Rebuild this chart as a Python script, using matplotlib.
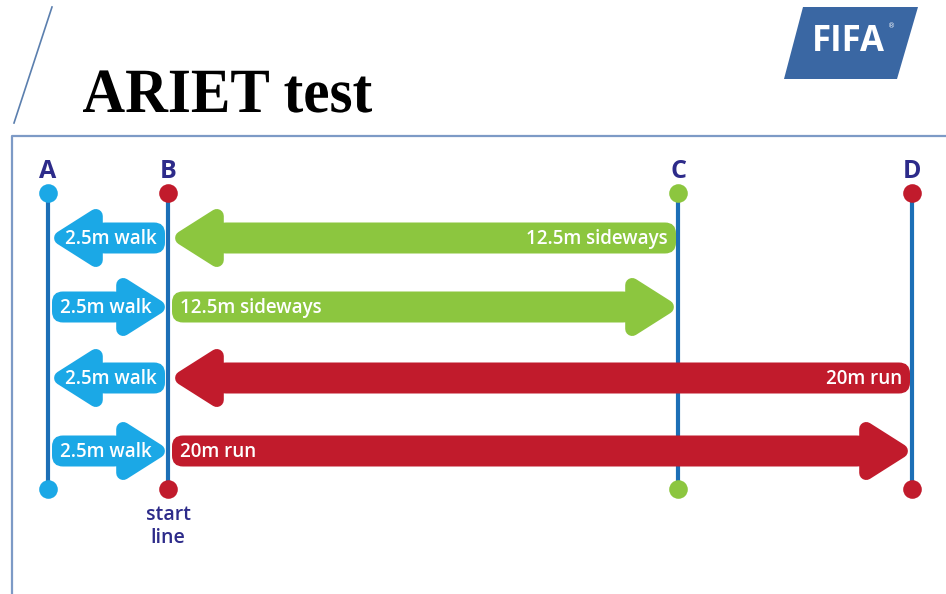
import numpy as np
import matplotlib.pyplot as plt
from matplotlib.patches import FancyBboxPatch, Polygon, PathPatch
from matplotlib.textpath import TextPath
from matplotlib.font_manager import FontProperties
from matplotlib.transforms import Affine2D

# cones along the line (metres from the start line B)
cones = ["A", "B", "C", "D"]
cone_m = [-2.5, 0, 12.5, 20]
cone_colors = ["#1ba8e6", "#c11b2c", "#8cc63f", "#c11b2c"]

# the four legs, top to bottom: +1 = to the right, -1 = to the left
walk_labels = ["2.5m walk", "2.5m walk", "2.5m walk", "2.5m walk"]
walk_dir = [-1, 1, -1, 1]
leg_labels = ["12.5m sideways", "12.5m sideways", "20m run", "20m run"]
leg_dist = [12.5, 12.5, 20, 20]
leg_dir = [-1, 1, -1, 1]

# drawing is not to scale: where each cone sits on the page
cone_px = [48, 168, 678, 912]
row_y = [238, 307, 378, 451]

BLUE = "#1ba8e6"
GREEN = "#8cc63f"
RED = "#c11b2c"
LINE = "#1c6fb6"
NAVY = "#2d2b8a"
SANS = ["Open Sans", "DejaVu Sans"]


def xpos(m):
    return np.interp(m, cone_m, cone_px)


def draw_arrow(ax, x_tail, x_tip, y, color, label):
    d = 1 if x_tip > x_tail else -1
    shaft_h = 31
    head_h = 58
    head_l = 48
    r = 7  # rounding of the head corners
    base = x_tip - d * head_l
    x0 = min(x_tail, base + d * 6)
    x1 = max(x_tail, base + d * 6)
    ax.add_patch(FancyBboxPatch((x0, y - shaft_h / 2), x1 - x0, shaft_h,
                                boxstyle="round,pad=0,rounding_size=11",
                                fc=color, ec="none", zorder=3))
    head = [(x_tip - d * r * 1.3, y),
            (base + d * r * 0.6, y - head_h / 2 + r),
            (base + d * r * 0.6, y + head_h / 2 - r)]
    ax.add_patch(Polygon(head, closed=True, fc=color, ec=color, lw=2 * r * 0.72,
                         joinstyle="round", zorder=3))
    ha = "left" if d == 1 else "right"
    ax.text(x_tail + d * 8, y + 1, label, color="white", fontsize=13.5,
            fontweight="semibold", family=SANS, ha=ha, va="center", zorder=4)


fig = plt.figure(figsize=(9.46, 5.94), dpi=100)
ax = fig.add_axes([0, 0, 1, 1])
ax.set_xlim(0, 946)
ax.set_ylim(594, 0)
ax.axis("off")

# page decoration
ax.plot([52, 14], [7, 123], color="#5b7fae", lw=1.2)
ax.plot([12, 12, 946], [594, 136, 136], color="#7d9ac6", lw=1.6)

# title, a little narrower than the plain font
tp = TextPath((0, 0), "ARIET test", size=63,
              prop=FontProperties(family=["Liberation Serif", "DejaVu Serif"], weight="bold"))
bb = tp.get_extents()
sx = 289 / bb.width
title_tf = Affine2D().translate(-bb.x0, 0).scale(sx, -1).translate(83, 112) + ax.transData
ax.add_patch(PathPatch(tp, fc="black", ec="none", transform=title_tf))

# FIFA logo
ax.add_patch(Polygon([(803, 7), (918, 7), (897, 79), (784, 79)], closed=True,
                     fc="#3a67a3", ec="none"))
ax.text(848, 42, "FIFA", color="white", fontsize=25, fontweight="bold",
        family=SANS, ha="center", va="center")
ax.text(892, 26, "®", color="white", fontsize=5, ha="center", va="center")

# cone lines
y_top, y_bot = 193, 489
for name, m, c in zip(cones, cone_m, cone_colors):
    x = xpos(m)
    ax.plot([x, x], [y_top, y_bot], color=LINE, lw=3, zorder=1, solid_capstyle="butt")
    ax.scatter([x, x], [y_top, y_bot], s=180, color=c, zorder=2, linewidths=0)
    ax.text(x, 171, name, color=NAVY, fontsize=18, fontweight="bold",
            family=SANS, ha="center", va="center")

ax.text(xpos(0), 515, "start", color=NAVY, fontsize=14, fontweight="semibold",
        family=SANS, ha="center", va="center")
ax.text(xpos(0), 538, "line", color=NAVY, fontsize=14, fontweight="semibold",
        family=SANS, ha="center", va="center")

# legs
xa, xb = xpos(-2.5), xpos(0)
for i, y in enumerate(row_y):
    # walk between A and B
    if walk_dir[i] == 1:
        draw_arrow(ax, xa + 4, xb - 1, y, BLUE, walk_labels[i])
    else:
        draw_arrow(ax, xb - 3, xa + 4, y, BLUE, walk_labels[i])
    # main leg between B and the far cone
    xf = xpos(leg_dist[i])
    color = GREEN if leg_dist[i] < 20 else RED
    if leg_dir[i] == 1:
        draw_arrow(ax, xb + 4, xf - 2, y, color, leg_labels[i])
    else:
        draw_arrow(ax, xf - 2, xb + 5, y, color, leg_labels[i])

fig.savefig("out.png", dpi=100, facecolor="white")
